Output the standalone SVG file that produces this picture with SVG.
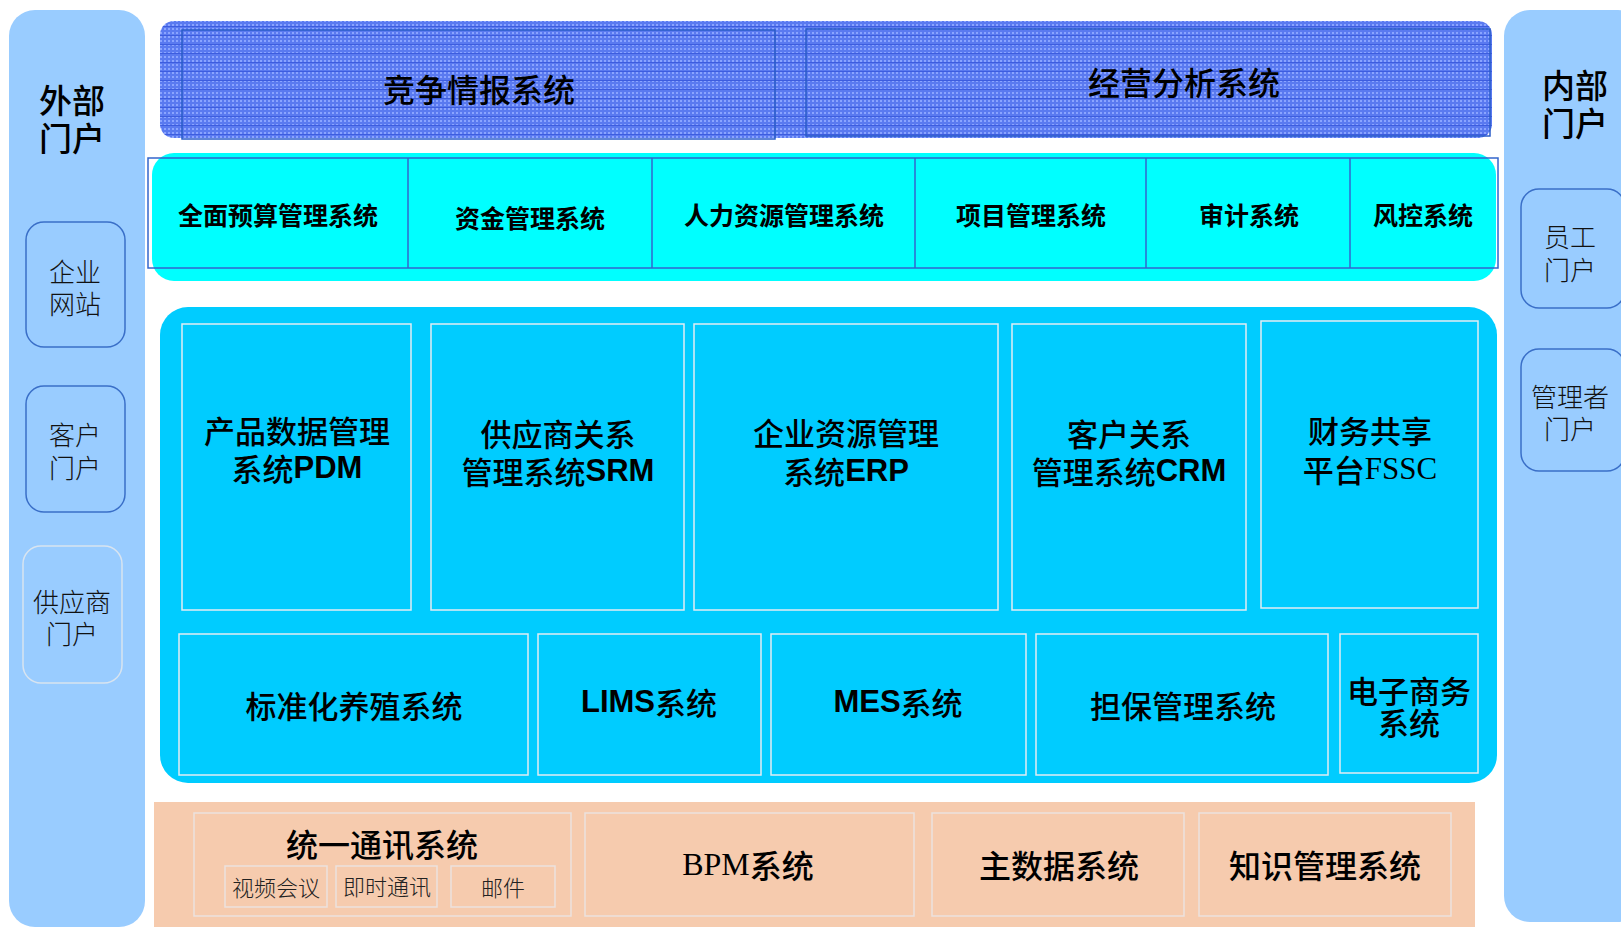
<svg xmlns="http://www.w3.org/2000/svg" width="1621" height="927" viewBox="0 0 1621 927">
<defs>
<pattern id="grid" width="4" height="4" patternUnits="userSpaceOnUse">
<rect width="4" height="4" fill="#5a7af0"/>
<rect x="0" y="0" width="2" height="2" fill="#8aa4ff"/>
</pattern>
<pattern id="stripes" width="8" height="9" patternUnits="userSpaceOnUse">
<rect x="0" y="8" width="8" height="1" fill="#3d5ddf"/>
</pattern>
</defs>
<style>
text{font-family:"Noto Sans CJK SC","Liberation Sans",sans-serif;fill:#000;text-anchor:middle;dominant-baseline:central}
.portal{fill:#99CCFF}
.pbox{fill:#99CCFF;stroke:#3a6fc8;stroke-width:1.5}
.pbox2{fill:#99CCFF;stroke:#d8e4f0;stroke-width:1.5}
.pt{font-size:26px;font-weight:300;fill:#111}
.ph{font-size:33px;font-weight:500}
.top{font-size:32px;font-weight:500}
.topbox{fill:none;stroke:#2a5cc8;stroke-width:1.5}
.row{font-size:25px;font-weight:700}
.mbox{fill:#00CCFF;stroke:#e2ecf4;stroke-width:1.5}
.mt{font-size:31px;font-weight:500}
.lat{font-family:"Liberation Sans",Arial,sans-serif;font-weight:700}
.ser{font-family:"Liberation Serif","Noto Sans CJK SC",serif}
.bbox{fill:#F6CBAE;stroke:#ece2de;stroke-width:1.5}
.bt{font-size:32px;font-weight:500}
.st{font-size:22px;font-weight:300;fill:#222}
</style>

<g id="external-portal">
<rect class="portal" x="9" y="10" width="136" height="917" rx="26"/>
<text class="ph" x="72" y="99">外部</text>
<text class="ph" x="72" y="137">门户</text>
</g>
<g id="enterprise-site">
<rect class="pbox" x="26" y="222" width="99" height="125" rx="18"/>
<text class="pt" x="75" y="270">企业</text>
<text class="pt" x="75" y="302">网站</text>
</g>
<g id="customer-portal">
<rect class="pbox" x="26" y="386" width="99" height="126" rx="18"/>
<text class="pt" x="75" y="433">客户</text>
<text class="pt" x="75" y="466">门户</text>
</g>
<g id="supplier-portal">
<rect class="pbox2" x="23" y="546" width="99" height="137" rx="18"/>
<text class="pt" x="72" y="600">供应商</text>
<text class="pt" x="72" y="632">门户</text>
</g>

<g id="internal-portal">
<rect class="portal" x="1504" y="10" width="140" height="912" rx="26"/>
<text class="ph" x="1575" y="84">内部</text>
<text class="ph" x="1575" y="122">门户</text>
</g>
<g id="employee-portal">
<rect class="pbox" x="1521" y="189" width="104" height="119" rx="18"/>
<text class="pt" x="1570" y="235">员工</text>
<text class="pt" x="1570" y="268">门户</text>
</g>
<g id="manager-portal">
<rect class="pbox" x="1521" y="349" width="104" height="122" rx="18"/>
<text class="pt" x="1570" y="395">管理者</text>
<text class="pt" x="1570" y="427">门户</text>
</g>

<g id="top-band">
<rect x="160" y="21" width="1332" height="117" rx="14" fill="url(#grid)"/>
<rect x="160" y="21" width="1332" height="117" rx="14" fill="url(#stripes)"/>
</g>
<g id="competitive-intel">
<rect class="topbox" x="182" y="30" width="593" height="109"/>
<text class="top" x="479" y="88">竞争情报系统</text>
</g>
<g id="business-analysis">
<rect class="topbox" x="806" y="29" width="684" height="107"/>
<text class="top" x="1184" y="81">经营分析系统</text>
</g>

<g id="mgmt-band">
<rect x="152" y="153" width="1344" height="128" rx="22" fill="#00FFFF"/>
<rect x="148" y="158" width="1350" height="110" fill="none" stroke="#3366CC" stroke-width="1.5"/>
<line x1="408" y1="158" x2="408" y2="268" stroke="#3366CC" stroke-width="1.5"/>
<line x1="652" y1="158" x2="652" y2="268" stroke="#3366CC" stroke-width="1.5"/>
<line x1="915" y1="158" x2="915" y2="268" stroke="#3366CC" stroke-width="1.5"/>
<line x1="1146" y1="158" x2="1146" y2="268" stroke="#3366CC" stroke-width="1.5"/>
<line x1="1350" y1="158" x2="1350" y2="268" stroke="#3366CC" stroke-width="1.5"/>
</g>
<g id="budget"><text class="row" x="278" y="214">全面预算管理系统</text></g>
<g id="funds"><text class="row" x="530" y="217">资金管理系统</text></g>
<g id="hr"><text class="row" x="784" y="214">人力资源管理系统</text></g>
<g id="project"><text class="row" x="1031" y="214">项目管理系统</text></g>
<g id="audit"><text class="row" x="1249" y="214">审计系统</text></g>
<g id="risk"><text class="row" x="1423" y="214">风控系统</text></g>

<g id="core-band">
<rect x="160" y="307" width="1337" height="476" rx="28" fill="#00CCFF"/>
</g>
<g id="pdm">
<rect class="mbox" x="182" y="324" width="229" height="286"/>
<text class="mt" x="297" y="429">产品数据管理</text>
<text class="mt" x="297" y="467">系统<tspan class="lat">PDM</tspan></text>
</g>
<g id="srm">
<rect class="mbox" x="431" y="324" width="253" height="286"/>
<text class="mt" x="558" y="432">供应商关系</text>
<text class="mt" x="558" y="470">管理系统<tspan class="lat">SRM</tspan></text>
</g>
<g id="erp">
<rect class="mbox" x="694" y="324" width="304" height="286"/>
<text class="mt" x="846" y="431">企业资源管理</text>
<text class="mt" x="846" y="470">系统<tspan class="lat">ERP</tspan></text>
</g>
<g id="crm">
<rect class="mbox" x="1012" y="324" width="234" height="286"/>
<text class="mt" x="1129" y="432">客户关系</text>
<text class="mt" x="1129" y="470">管理系统<tspan class="lat">CRM</tspan></text>
</g>
<g id="fssc">
<rect class="mbox" x="1261" y="321" width="217" height="287"/>
<text class="mt" x="1370" y="429" font-weight="400">财务共享</text>
<text class="mt" x="1370" y="468" font-weight="400">平台<tspan class="ser">FSSC</tspan></text>
</g>
<g id="breeding">
<rect class="mbox" x="179" y="634" width="349" height="141"/>
<text class="mt" x="354" y="704" font-size="32">标准化养殖系统</text>
</g>
<g id="lims">
<rect class="mbox" x="538" y="634" width="223" height="141"/>
<text class="mt" x="649" y="701" font-size="32"><tspan class="lat">LIMS</tspan>系统</text>
</g>
<g id="mes">
<rect class="mbox" x="771" y="634" width="255" height="141"/>
<text class="mt" x="898" y="701" font-size="32"><tspan class="lat">MES</tspan>系统</text>
</g>
<g id="guarantee">
<rect class="mbox" x="1036" y="634" width="292" height="141"/>
<text class="mt" x="1183" y="704" font-size="32">担保管理系统</text>
</g>
<g id="ecommerce">
<rect class="mbox" x="1340" y="634" width="138" height="139"/>
<text class="mt" x="1409" y="689" font-size="26">电子商务</text>
<text class="mt" x="1409" y="721" font-size="26">系统</text>
</g>

<g id="base-band">
<rect x="154" y="802" width="1321" height="130" fill="#F6CBAE"/>
</g>
<g id="uc">
<rect class="bbox" x="194" y="813" width="377" height="103"/>
<text class="bt" x="382" y="843">统一通讯系统</text>
</g>
<g id="video">
<rect class="bbox" x="225" y="866" width="102" height="41"/>
<text class="st" x="276" y="886">视频会议</text>
</g>
<g id="im">
<rect class="bbox" x="336" y="866" width="101" height="41"/>
<text class="st" x="387" y="885">即时通讯</text>
</g>
<g id="mail">
<rect class="bbox" x="451" y="866" width="104" height="41"/>
<text class="st" x="503" y="886">邮件</text>
</g>
<g id="bpm">
<rect class="bbox" x="585" y="813" width="329" height="103"/>
<text class="bt" x="748" y="864" font-weight="400"><tspan class="ser">BPM</tspan>系统</text>
</g>
<g id="mdm">
<rect class="bbox" x="932" y="813" width="252" height="103"/>
<text class="bt" x="1059" y="864">主数据系统</text>
</g>
<g id="km">
<rect class="bbox" x="1199" y="813" width="252" height="103"/>
<text class="bt" x="1325" y="864">知识管理系统</text>
</g>

<g id="connectors"></g>
</svg>
